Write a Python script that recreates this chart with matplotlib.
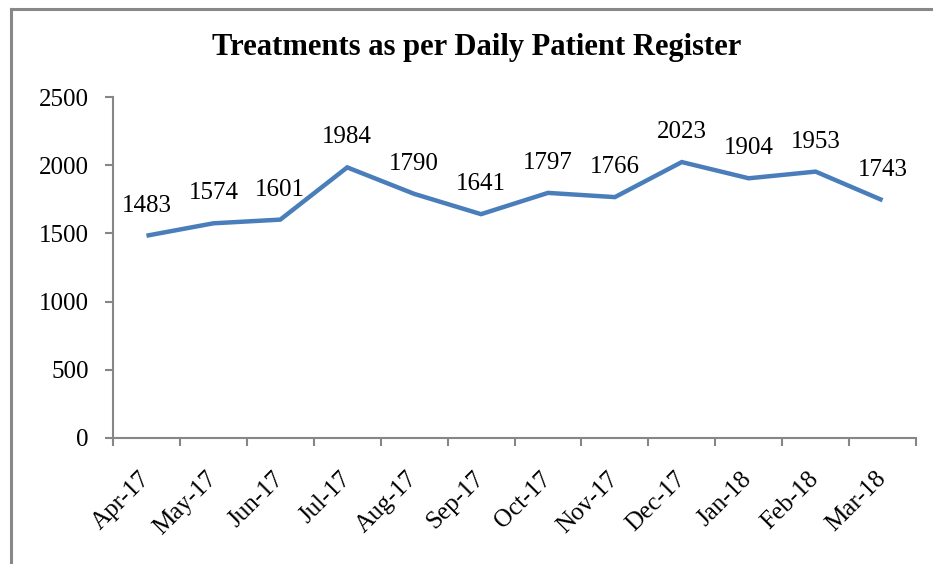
import numpy as np
import matplotlib
matplotlib.use("Agg")
import matplotlib.pyplot as plt
from matplotlib.lines import Line2D

plt.rcParams['font.family'] = ['Liberation Serif', 'DejaVu Serif']

# data:
# ------------------------
months = ['Apr-17', 'May-17', 'Jun-17', 'Jul-17', 'Aug-17', 'Sep-17',
          'Oct-17', 'Nov-17', 'Dec-17', 'Jan-18', 'Feb-18', 'Mar-18']
treatments = [1483, 1574, 1601, 1984, 1790, 1641, 1797, 1766, 2023, 1904, 1953, 1743]
yticks = [0, 500, 1000, 1500, 2000, 2500]

fig = plt.figure(figsize=(9.33, 5.64), dpi=100)
ax = fig.add_axes([113/933, 1-438/564, (916-113)/933, (438-97)/564])

x = np.arange(len(months))
ax.plot(x, treatments, color='#4A7EBB', lw=3.2, solid_capstyle='butt', solid_joinstyle='miter')

# value labels above each point:
for xi, v in zip(x, treatments):
    ax.annotate(str(v), (xi, v), xytext=(0, 19), textcoords='offset pixels',
                ha='center', va='bottom', fontsize=18)

ax.set_xlim(-0.5, len(months) - 0.5)
ax.set_ylim(0, 2500)
ax.set_yticks(yticks)

# category labels centred, tick marks between categories
ax.set_xticks(x)
ax.set_xticklabels(months, rotation=45, ha='right', va='center', rotation_mode='anchor', fontsize=18)
ax.set_xticks(np.arange(-0.5, len(months)), minor=True)
ax.tick_params(axis='x', which='major', length=0, pad=27)
ax.tick_params(axis='x', which='minor', length=5.5, width=1.5, color='#868686', direction='out')
ax.tick_params(axis='y', length=5.5, width=1.5, color='#868686', pad=12, labelsize=18)

for s in ['top', 'right']:
    ax.spines[s].set_visible(False)
for s in ['left', 'bottom']:
    ax.spines[s].set_color('#868686')
    ax.spines[s].set_linewidth(1.5)

fig.text(477/933, 1-48/564, 'Treatments as per Daily Patient Register',
         ha='center', va='center', fontsize=22, fontweight='bold')

# chart-area border (cropped on right and bottom)
fig.add_artist(Line2D([10.5/933, 10.5/933], [0, 1-8.5/564], transform=fig.transFigure,
                      color='#888888', lw=2.2))
fig.add_artist(Line2D([10.5/933, 1], [1-8.5/564, 1-8.5/564], transform=fig.transFigure,
                      color='#888888', lw=2.2))

fig.savefig('out.png', dpi=100)
